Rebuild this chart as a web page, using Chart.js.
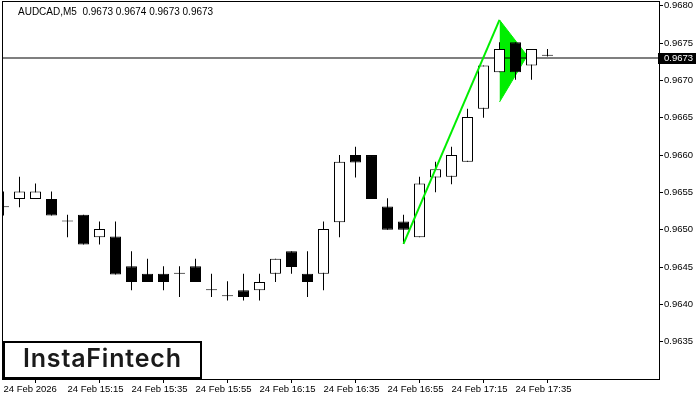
<!DOCTYPE html>
<html>
<head>
<meta charset="utf-8">
<script src="https://cdn.jsdelivr.net/npm/chart.js@4/dist/chart.umd.min.js"></script>
<style>
html,body{margin:0;padding:0;background:#fff}
canvas{display:block}
</style>
</head>
<body>
<canvas id="chart" width="700" height="400"></canvas>
<script>
// AUDCAD M5, one candle every 5 minutes starting 24 Feb 14:55
const opens  = [0.96530,0.96541,0.96541,0.96541,0.96511,0.96520,0.96490,0.96491,0.96451,0.96441,0.96441,0.96441,0.96451,0.96419,0.96411,0.96419,0.96419,0.96441,0.96471,0.96441,0.96441,0.96510,0.96600,0.96600,0.96531,0.96511,0.96490,0.96570,0.96571,0.96591,0.96662,0.96711,0.96751,0.96720,0.96733]
const highs  = [0.96551,0.96571,0.96562,0.96551,0.96520,0.96520,0.96511,0.96511,0.96471,0.96461,0.96451,0.96451,0.96461,0.96441,0.96431,0.96441,0.96441,0.96461,0.96471,0.96471,0.96511,0.96600,0.96611,0.96600,0.96542,0.96520,0.96571,0.96591,0.96611,0.96662,0.96720,0.96751,0.96751,0.96742,0.96742]
const lows   = [0.96519,0.96530,0.96541,0.96519,0.96490,0.96480,0.96480,0.96440,0.96419,0.96430,0.96419,0.96410,0.96430,0.96410,0.96405,0.96405,0.96405,0.96430,0.96441,0.96410,0.96419,0.96490,0.96570,0.96541,0.96500,0.96481,0.96490,0.96550,0.96561,0.96591,0.96650,0.96711,0.96701,0.96701,0.96732]
const closes = [0.96530,0.96551,0.96551,0.96519,0.96511,0.96480,0.96501,0.96440,0.96430,0.96430,0.96430,0.96441,0.96430,0.96419,0.96411,0.96410,0.96430,0.96461,0.96450,0.96430,0.96501,0.96591,0.96590,0.96541,0.96500,0.96500,0.96562,0.96581,0.96600,0.96651,0.96720,0.96742,0.96711,0.96742,0.96733]

const timeLabels = ["24 Feb 2026","24 Feb 15:15","24 Feb 15:35","24 Feb 15:55","24 Feb 16:15","24 Feb 16:35","24 Feb 16:55","24 Feb 17:15","24 Feb 17:35"]
const priceTicks = [0.9635,0.9640,0.9645,0.9650,0.9655,0.9660,0.9665,0.9670,0.9675,0.9680]

const currentPrice = 0.9673
const headerText = "AUDCAD,M5  0.9673 0.9674 0.9673 0.9673"

// bullish pennant: pole and flag
const poleX = [25, 31]
const poleY = [0.96481, 0.96781]
const flagTopX = [31, 32.73]
const flagTopY = [0.96781, 0.96733]
const flagBotX = [31, 32.73]
const flagBotY = [0.96671, 0.96733]

const green = "#00ee00"

let bodyData = []
let wickData = []
for(let i=0;i<opens.length;i++){
bodyData.push({x:i, y:[opens[i], closes[i]]})
wickData.push({x:i, y:[lows[i], highs[i]]})
}

function pts(xs, ys){
return xs.map((x,k)=>({x:x, y:ys[k]}))
}

const chartLeft = 3
const pxPerBar = 16
const xMin = -0.5/pxPerBar
const xMax = xMin + (659-chartLeft)/pxPerBar

const lblFont = {family:"'Liberation Sans', Arial, sans-serif", size:9.5}

const overlay = {
id:"overlay",
afterDraw(chart){
const c = chart.ctx
const a = chart.chartArea
const y = chart.scales.y

// frame
c.save()
c.strokeStyle = "#000"
c.lineWidth = 1
c.strokeRect(a.left-0.5, a.top-0.5, a.right-a.left+1, a.bottom-a.top+1)

// header
c.fillStyle = "#000"
c.font = "10px 'Liberation Sans', Arial, sans-serif"
c.textBaseline = "middle"
c.textAlign = "left"
c.fillText(headerText, 18, 12)

// current price label
let py = Math.round(y.getPixelForValue(currentPrice))
c.fillStyle = "#000"
c.fillRect(658, py-5, 38, 11)
c.fillStyle = "#fff"
c.font = "9.5px 'Liberation Sans', Arial, sans-serif"
c.fillText(currentPrice.toFixed(4), 664, py+0.5)

// logo
c.fillStyle = "#fff"
c.fillRect(3, 341, 199, 38)
c.strokeStyle = "#000"
c.lineWidth = 2
c.strokeRect(4, 342, 197, 36)
c.fillStyle = "#1a1a1a"
c.font = "600 25px Inter, 'Open Sans', sans-serif"
let w = c.measureText("InstaFintech").width
c.letterSpacing = ((158 - w)/11) + "px"
c.textBaseline = "alphabetic"
c.fillText("InstaFintech", 23, 367)
c.restore()
}
}

new Chart(document.getElementById("chart"),{
type:"bar",
data:{
datasets:[
{
type:"line",
data:pts(poleX, poleY),
borderColor:green,
borderWidth:2,
pointRadius:0,
order:0
},
{
data:bodyData,
backgroundColor:(ctx)=> closes[ctx.dataIndex] < opens[ctx.dataIndex] ? "#000" : "#fff",
borderColor:"#000",
borderWidth:1,
borderSkipped:false,
barThickness:11,
minBarLength:1,
grouped:false,
inflateAmount:0,
order:1
},
{
data:wickData,
backgroundColor:"#000",
borderWidth:0,
barThickness:1,
grouped:false,
inflateAmount:0,
order:2
},
{
type:"line",
data:[{x:xMin, y:currentPrice},{x:xMax, y:currentPrice}],
borderColor:"#000",
borderWidth:1.2,
pointRadius:0,
order:3
},
{
type:"line",
data:pts(flagTopX, flagTopY),
borderColor:green,
borderWidth:1,
pointRadius:0,
order:5
},
{
type:"line",
data:pts(flagBotX, flagBotY),
borderColor:green,
borderWidth:1,
backgroundColor:green,
fill:"-1",
pointRadius:0,
order:4
}
]
},
options:{
responsive:false,
animation:false,
devicePixelRatio:1,
layout:{padding:{left:chartLeft, top:2, right:0, bottom:0}},
plugins:{legend:{display:false}, tooltip:{enabled:false}},
scales:{
x:{
type:"linear",
position:"bottom",
min:xMin,
max:xMax,
offset:false,
afterBuildTicks:(s)=>{ s.ticks = timeLabels.map((l,k)=>({value:k*4})) },
afterFit:(s)=>{ s.height = 21; s.paddingLeft = 0; s.paddingRight = 0 },
grid:{drawOnChartArea:false, drawTicks:true, tickLength:4, color:"#000"},
border:{display:false},
ticks:{
align:"start",
padding:1,
autoSkip:false,
maxRotation:0,
color:"#000",
font:lblFont,
callback:(v)=> timeLabels[Math.round(v/4)]
}
},
y:{
type:"linear",
position:"right",
min:0.96300,
max:0.96805,
afterBuildTicks:(s)=>{ s.ticks = priceTicks.map(v=>({value:v})) },
afterFit:(s)=>{ s.width = 41; s.paddingTop = 0; s.paddingBottom = 0 },
grid:{drawOnChartArea:false, drawTicks:true, tickLength:4, color:"#000"},
border:{display:false},
ticks:{
padding:1,
color:"#000",
font:lblFont,
callback:(v)=> v.toFixed(4)
}
}
}
},
plugins:[overlay]
})
</script>
</body>
</html>
